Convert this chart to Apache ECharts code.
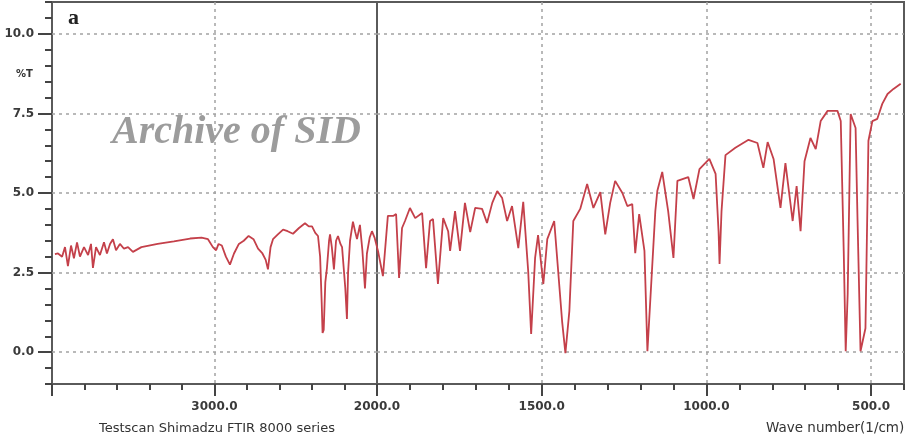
<!DOCTYPE html>
<html>
<head>
<meta charset="utf-8">
<script src="https://cdn.jsdelivr.net/npm/echarts@6/dist/echarts.min.js"></script>
<style>
  html, body { margin: 0; padding: 0; background: #fff; }
  #chart { width: 907px; height: 436px; }
</style>
</head>
<body>
<div id="chart"></div>
<script>
// 4000-2000 1/cm (compressed part of the scan)
var waveHigh = [3982, 3963, 3938, 3920, 3902, 3883, 3865, 3846, 3828, 3803, 3778, 3760, 3748, 3729, 3705, 3680, 3662, 3643, 3625, 3606, 3582, 3557, 3532, 3502, 3450, 3350, 3250, 3150, 3080, 3040, 3010, 2990, 2975, 2955, 2930, 2905, 2880, 2850, 2820, 2790, 2760, 2732, 2705, 2685, 2671, 2655, 2640, 2610, 2578, 2550, 2517, 2480, 2443, 2420, 2400, 2380, 2363, 2350, 2340, 2335, 2328, 2318, 2308, 2295, 2289, 2278, 2265, 2252, 2240, 2225, 2215, 2195, 2185, 2178, 2166, 2148, 2135, 2123, 2105, 2090, 2074, 2062, 2045, 2031, 2015, 2000];
var transHigh = [3.08, 3.1, 3.0, 3.3, 2.7, 3.35, 2.95, 3.45, 3.0, 3.3, 3.05, 3.4, 2.65, 3.3, 3.05, 3.45, 3.1, 3.4, 3.55, 3.2, 3.4, 3.25, 3.3, 3.15, 3.3, 3.4, 3.48, 3.57, 3.6, 3.55, 3.3, 3.2, 3.4, 3.35, 3.0, 2.75, 3.1, 3.4, 3.5, 3.65, 3.55, 3.25, 3.1, 2.9, 2.6, 3.3, 3.55, 3.7, 3.85, 3.8, 3.72, 3.9, 4.05, 3.95, 3.95, 3.75, 3.65, 3.0, 1.5, 0.6, 0.7, 2.2, 2.65, 3.5, 3.7, 3.3, 2.6, 3.5, 3.65, 3.4, 3.3, 2.0, 1.04, 2.5, 3.5, 4.1, 3.8, 3.55, 4.0, 3.2, 2.0, 3.1, 3.6, 3.8, 3.6, 3.3];

// 2000-400 1/cm (expanded part)
var waveLow = [2000, 1997, 1982, 1967, 1951, 1942, 1933, 1924, 1915, 1900, 1884, 1863, 1851, 1839, 1830, 1815, 1799, 1784, 1778, 1763, 1748, 1733, 1717, 1702, 1681, 1666, 1650, 1635, 1620, 1605, 1590, 1571, 1556, 1541, 1532, 1520, 1511, 1495, 1483, 1462, 1450, 1438, 1428, 1416, 1404, 1383, 1362, 1343, 1322, 1307, 1292, 1277, 1255, 1240, 1225, 1216, 1204, 1188, 1179, 1167, 1155, 1149, 1134, 1116, 1100, 1088, 1055, 1039, 1021, 991, 972, 963, 960, 954, 942, 912, 872, 845, 827, 814, 796, 775, 760, 738, 726, 714, 702, 684, 668, 653, 632, 602, 592, 583, 577, 571, 562, 547, 541, 532, 517, 508, 496, 481, 466, 450, 432, 410];
var transLow = [3.3, 3.18, 2.39, 4.28, 4.28, 4.34, 2.33, 3.9, 4.12, 4.53, 4.21, 4.37, 2.64, 4.12, 4.18, 2.14, 4.21, 3.8, 3.18, 4.43, 3.18, 4.69, 3.77, 4.53, 4.5, 4.06, 4.69, 5.06, 4.84, 4.12, 4.59, 3.27, 4.72, 2.55, 0.57, 2.96, 3.68, 2.14, 3.55, 4.12, 2.55, 0.97, -0.03, 1.29, 4.12, 4.5, 5.28, 4.53, 5.03, 3.7, 4.69, 5.38, 5.0, 4.59, 4.65, 3.11, 4.34, 3.18, 0.03, 2.23, 4.43, 5.06, 5.66, 4.43, 2.96, 5.38, 5.5, 4.81, 5.75, 6.07, 5.6, 3.8, 2.77, 4.43, 6.19, 6.42, 6.67, 6.57, 5.79, 6.6, 6.07, 4.53, 5.94, 4.12, 5.22, 3.8, 6.0, 6.73, 6.38, 7.26, 7.58, 7.58, 7.26, 3.18, 0.03, 1.82, 7.48, 7.04, 4.12, 0.03, 0.75, 6.64, 7.26, 7.33, 7.8, 8.11, 8.27, 8.43];

var yTicks = [0, 2.5, 5, 7.5, 10];
var xTicksHigh = [2000, 3000];
var xTicksLow = [500, 1000, 1500];

function pairs(xs, ys) {
  return xs.map(function (x, i) { return [x, ys[i]]; });
}

var gridLineStyle = { color: '#a3a3a3', type: [3, 4], width: 1.5 };
var dashed = { show: true, lineStyle: gridLineStyle };
// 左半边：2000 和 4000 处是边框，不画虚线
var dashedInner = { show: true, showMinLine: false, showMaxLine: false, lineStyle: gridLineStyle };
var labelFont = { color: '#3a3a3a', fontSize: 12, fontFamily: 'DejaVu Sans', fontWeight: 'bold' };
var tickStyle = { color: '#444', width: 2 };
var lineColor = '#c4404a';

var myChart = echarts.init(document.getElementById('chart'));
var option = {
  animation: false,
  backgroundColor: '#fff',
  title: [
    { text: 'a', left: 63, top: 2, textStyle: { fontSize: 22, fontWeight: 'bold', fontFamily: 'Liberation Serif', color: '#222' } },
    { text: 'Archive of SID', left: 107, top: 108, textStyle: { fontSize: 40, fontWeight: 'bold', fontStyle: 'italic', fontFamily: 'Liberation Serif', color: '#9c9c9c' } },
    { text: '%T', left: 11, top: 64, textStyle: { fontSize: 10, fontWeight: 'bold', fontFamily: 'DejaVu Sans', color: '#333' } },
    { text: 'Testscan Shimadzu FTIR 8000 series', left: 94, top: 417, textStyle: { fontSize: 13, fontWeight: 'normal', fontFamily: 'DejaVu Sans', color: '#333' } },
    { text: 'Wave number(1/cm)', left: 761, top: 416, textStyle: { fontSize: 13.5, fontWeight: 'normal', fontFamily: 'DejaVu Sans', color: '#333' } }
  ],
  grid: [
    { left: 52, top: 2, width: 325, height: 382, show: true, borderColor: '#5a5a5a', borderWidth: 2 },
    { left: 377, top: 2, width: 527, height: 382, show: true, borderColor: '#5a5a5a', borderWidth: 2 }
  ],
  xAxis: [
    {
      type: 'value', gridIndex: 0, position: 'bottom', min: 2000, max: 4000, interval: 1000, inverse: true,
      axisLine: { show: false, onZero: false },
      axisTick: { show: true, length: 12, lineStyle: tickStyle },
      minorTick: { show: true, splitNumber: 5, length: 6, lineStyle: tickStyle },
      axisLabel: Object.assign({ margin: 17, formatter: function (v) { return xTicksHigh.indexOf(v) >= 0 ? v.toFixed(1) : ''; } }, labelFont),
      splitLine: dashedInner
    },
    {
      type: 'value', gridIndex: 1, position: 'bottom', min: 400, max: 2000, inverse: true,
      axisLine: { show: false, onZero: false },
      axisTick: { show: true, length: 12, customValues: xTicksLow, lineStyle: tickStyle },
      axisLabel: Object.assign({ margin: 17, customValues: xTicksLow, formatter: function (v) { return v.toFixed(1); } }, labelFont),
      splitLine: dashed
    },
    {
      type: 'value', gridIndex: 1, position: 'bottom', offset: 0, min: 400, max: 2000, interval: 100, inverse: true,
      axisLine: { show: false, onZero: false },
      axisTick: { show: true, length: 6, lineStyle: tickStyle },
      axisLabel: { show: false },
      splitLine: { show: false }
    }
  ],
  yAxis: [
    {
      type: 'value', gridIndex: 0, position: 'left', min: -1, max: 11,
      axisLine: { show: false, onZero: false },
      axisTick: { show: true, length: 14, customValues: yTicks, lineStyle: tickStyle },
      axisLabel: Object.assign({ margin: 18, customValues: yTicks, formatter: function (v) { return v.toFixed(1); } }, labelFont),
      splitLine: dashed
    },
    {
      type: 'value', gridIndex: 0, position: 'left', offset: 0, min: -1, max: 11, interval: 0.5,
      axisLine: { show: false, onZero: false },
      axisTick: { show: true, length: 7, lineStyle: tickStyle },
      axisLabel: { show: false },
      splitLine: { show: false }
    },
    {
      type: 'value', gridIndex: 1, position: 'left', min: -1, max: 11,
      axisLine: { show: false, onZero: false },
      axisTick: { show: false, customValues: yTicks },
      axisLabel: { show: false, customValues: yTicks },
      splitLine: dashed
    }
  ],
  series: [
    {
      type: 'line', xAxisIndex: 0, yAxisIndex: 0, showSymbol: false,
      lineStyle: { color: lineColor, width: 1.8 },
      data: pairs(waveHigh, transHigh)
    },
    {
      type: 'line', xAxisIndex: 1, yAxisIndex: 2, showSymbol: false,
      lineStyle: { color: lineColor, width: 1.8 },
      data: pairs(waveLow, transLow)
    }
  ]
};
myChart.setOption(option);
window.addEventListener('resize', function () {
  myChart.resize();
});
</script>
</body>
</html>
